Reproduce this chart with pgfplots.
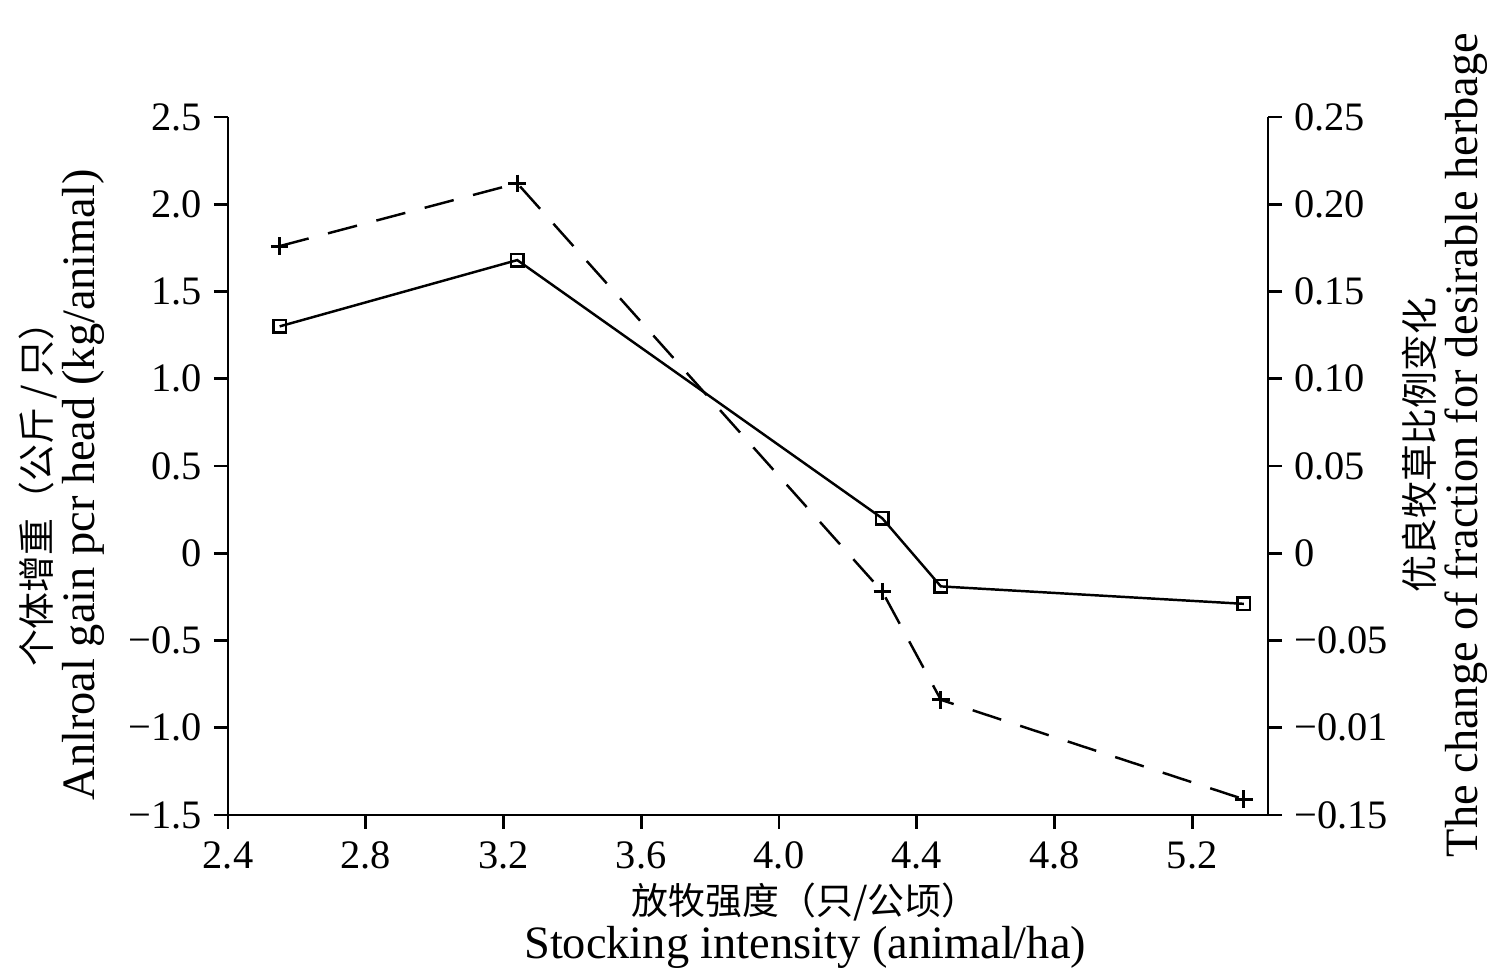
\documentclass[border=0pt]{standalone}
\usepackage{fontspec}
\setmainfont{Liberation Serif}
\newfontfamily\cjk{Noto Sans CJK SC}
\usepackage{pgfplots}
\pgfplotsset{compat=1.18}

\pgfplotsset{
  figbase/.style={
    scale only axis, width=104mm, height=69.8mm,
    xmin=2.4, xmax=5.42,
    tick align=outside,
    major tick length=1.4mm,
    tick style={black, line width=0.8pt},
    axis line style={-, line width=0.8pt},
    ticklabel style={font=\fontsize{11.5}{13}\selectfont},
    label style={font=\fontsize{13.2}{12.6}\selectfont, align=center},
  },
}

\begin{document}
\begin{tikzpicture}
\path[use as bounding box] (-22.8mm,-15.3mm) rectangle (126.1mm,81.5mm);

% left axis: gain per head
\begin{axis}[figbase,
  ymin=-1.5, ymax=2.5,
  axis x line*=bottom, axis y line*=left,
  xtick={2.4,2.8,3.2,3.6,4.0,4.4,4.8,5.2},
  xticklabels={2.4,2.8,3.2,3.6,4.0,4.4,4.8,5.2},
  ytick={-1.5,-1.0,-0.5,0,0.5,1.0,1.5,2.0,2.5},
  yticklabels={−1.5,−1.0,−0.5,0,0.5,1.0,1.5,2.0,2.5},
  xlabel={{\cjk\fontsize{10.5}{12}\selectfont 放牧强度（只/公顷）}\\Stocking intensity (animal/ha)},
  xlabel style={at={(axis description cs:0.555,-0.159)}, anchor=center},
  ylabel={{\cjk\fontsize{10.5}{12}\selectfont 个体增重（公斤 / 只）}\\Anlroal gain pcr head (kg/animal)},
  ylabel style={at={(axis description cs:-0.16,0.473)}, anchor=center},
]
\addplot[black, line width=0.7pt, mark=square, mark size=1.8pt,
  mark options={solid, line width=0.7pt}]
  coordinates {(2.55,1.30) (3.24,1.68) (4.30,0.20) (4.47,-0.19) (5.35,-0.29)};
\end{axis}

% right axis: change of desirable herbage fraction
\begin{axis}[figbase,
  ymin=-0.15, ymax=0.25,
  axis x line=none, axis y line*=right,
  ytick={-0.15,-0.10,-0.05,0,0.05,0.10,0.15,0.20,0.25},
  yticklabels={−0.15,−0.01,−0.05,0,0.05,0.10,0.15,0.20,0.25},
  ylabel={{\cjk\fontsize{10.5}{12}\selectfont 优良牧草比例变化}\\The change of fraction for desirable herbage},
  ylabel style={at={(axis description cs:1.170,0.530)}, anchor=center},
]
\addplot[black, line width=0.7pt, dash pattern=on 3mm off 2mm,
  mark=+, mark size=2.5pt, mark options={solid, line width=0.9pt}]
  coordinates {(2.55,0.176) (3.24,0.212) (4.30,-0.022) (4.47,-0.084) (5.35,-0.141)};
\end{axis}
\end{tikzpicture}
\end{document}
